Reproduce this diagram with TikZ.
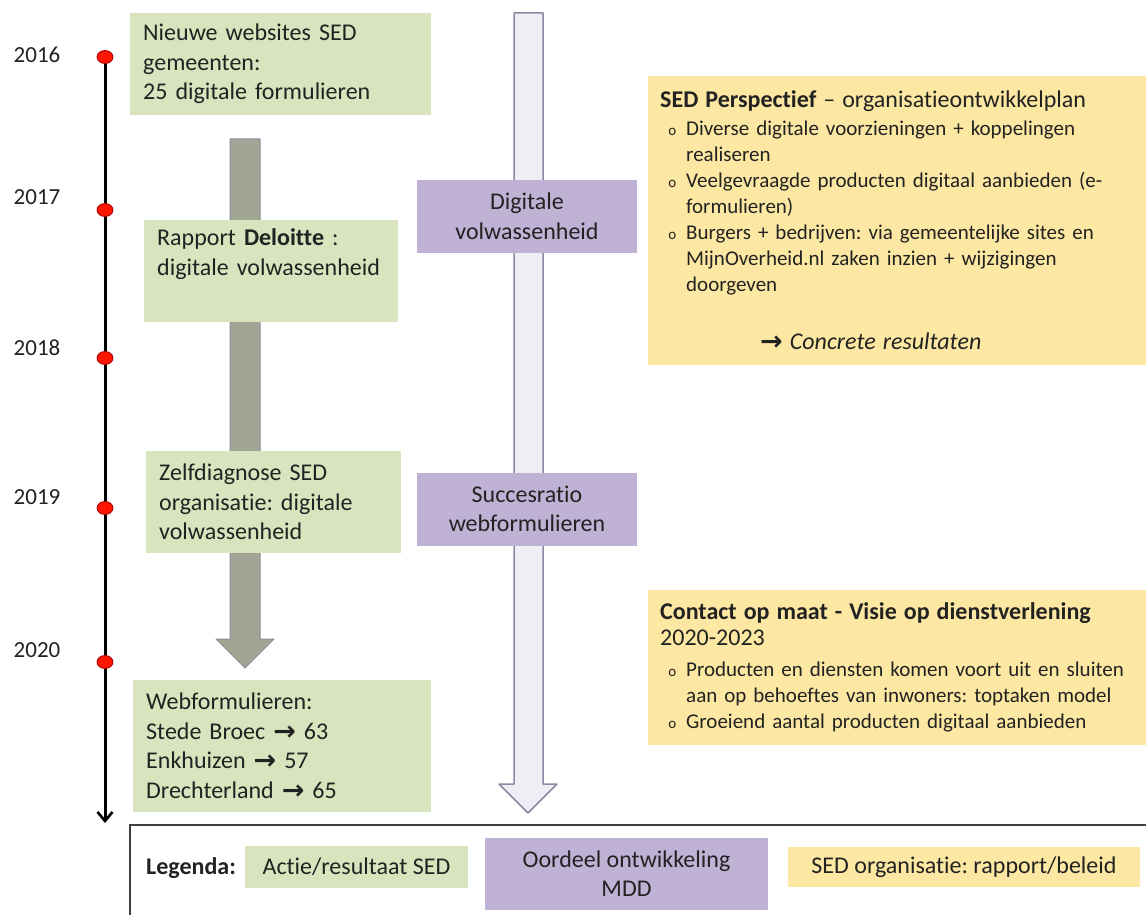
\documentclass[tikz,border=0pt]{standalone}
\usepackage{fontspec}
\setmainfont[Ligatures=NoCommon]{Carlito}
\newfontfamily\arrowfont{DejaVu Sans}
\usetikzlibrary{arrows.meta,shapes.geometric}
\frenchspacing

\definecolor{boxgreen}{HTML}{D7E4BD}
\definecolor{boxpurple}{HTML}{BFB2D4}
\definecolor{boxyellow}{HTML}{FCE8A2}
\definecolor{ink}{HTML}{222222}
\definecolor{flowgray}{HTML}{A3A594}
\definecolor{flowgrayedge}{HTML}{8C8D99}
\definecolor{flowlight}{HTML}{EFEEF5}
\definecolor{flowlightedge}{HTML}{8E87A6}
\definecolor{dotred}{HTML}{FF1500}
\definecolor{dotedge}{HTML}{A00000}
\definecolor{legendedge}{HTML}{404040}

% thick arrow glyph used inside the texts
\newcommand{\goesto}{{\arrowfont\bfseries\fontsize{27}{20}\selectfont\raisebox{-1pt}{→}}}

% small "o" bullets with a hanging indent
\newenvironment{bulletlist}{%
  \begin{list}{\fontsize{15}{15}\selectfont o}{%
    \setlength{\leftmargin}{26pt}\setlength{\labelwidth}{12pt}%
    \setlength{\labelsep}{10pt}\setlength{\itemsep}{0pt}%
    \setlength{\parsep}{0pt}\setlength{\topsep}{0pt}%
    \setlength{\partopsep}{0pt}\raggedright}}%
  {\end{list}}

\begin{document}
\begin{tikzpicture}[x=1pt,y=-1pt,
  every node/.style={text=ink},
  year/.style={font=\fontsize{23}{28}\selectfont, inner sep=0pt},
  yeardot/.style={ellipse, fill=dotred, draw=dotedge, line width=0.8pt,
    minimum width=16pt, minimum height=13pt, inner sep=0pt},
  greenbox/.style={fill=boxgreen, anchor=north west, inner xsep=13pt,
    inner ysep=0pt, align=left, font=\fontsize{24}{29.5}\selectfont},
  purplebox/.style={fill=boxpurple, minimum width=220pt, minimum height=73pt,
    inner sep=0pt, align=center, font=\fontsize{24}{29.5}\selectfont},
  yellowbox/.style={fill=boxyellow, anchor=north west, inner xsep=12pt,
    inner ysep=0pt, text width=474pt, align=left,
    font=\fontsize{21}{26}\selectfont},
  legendbox/.style={inner sep=0pt, align=center,
    font=\fontsize{24}{29}\selectfont}
]
\useasboundingbox (0,0) rectangle (1146,915);
\fill[white] (0,0) rectangle (1146,915);

% timeline
\coordinate (tlstart) at (105,57);
\coordinate (tlend) at (105,823);
\draw[line width=3pt, -{Straight Barb[length=9pt,width=15pt,line width=2.6pt]}]
  (tlstart) -- (tlend);
\foreach \yr/\dy/\ly in {2016/57/55, 2017/210/197, 2018/358/348,
                         2019/508/497, 2020/662/650}{
  \node[year] (y\yr) at (37,\ly) {\yr};
  \node[yeardot] (d\yr) at (105,\dy) {};
}

% broad arrows
\draw[fill=flowlight, draw=flowlightedge, line width=1.5pt, line join=round]
  (514,13) -- (543,13) -- (543,784) -- (557,784) -- (528,813)
  -- (499,784) -- (514,784) -- cycle;
\draw[fill=flowgray, draw=flowgrayedge, line width=1pt, line join=round]
  (230,139) -- (260,139) -- (260,639) -- (274,639) -- (245,668)
  -- (216,639) -- (230,639) -- cycle;

% actions / results
\node[greenbox, text width=275pt, minimum height=102pt] (g1) at (130,13)
  {Nieuwe websites SED\\ gemeenten:\\ 25 digitale formulieren};
\node[greenbox, text width=228pt, minimum height=102pt] (g2) at (144,220)
  {Rapport \textbf{Deloitte} :\\ digitale volwassenheid\\ \strut};
\node[greenbox, text width=229pt, minimum height=102pt] (g3) at (146,451)
  {Zelfdiagnose SED\\ organisatie: digitale\\ volwassenheid};
\node[greenbox, text width=272pt, minimum height=132pt] (g4) at (133,680)
  {Webformulieren:\\ Stede Broec \goesto{} 63\\ Enkhuizen \goesto{} 57\\
   Drechterland \goesto{} 65};

% assessments
\node[purplebox] (p1) at (527,216.5) {Digitale\\ volwassenheid};
\node[purplebox] (p2) at (527,509) {Succesratio\\ webformulieren};

% reports / policy
\node[yellowbox, minimum height=289pt] (r1) at (648,76)
  {{\fontsize{24}{29}\selectfont\textbf{SED Perspectief} – organisatieontwikkelplan}\par
   \vspace{2pt}
   \begin{bulletlist}
   \item Diverse digitale voorzieningen + koppelingen\\ realiseren
   \item Veelgevraagde producten digitaal aanbieden (e-\\formulieren)
   \item Burgers + bedrijven: via gemeentelijke sites en\\
         MijnOverheid.nl zaken inzien + wijzigingen\\ doorgeven
   \end{bulletlist}\par
   \vspace{32pt}
   \hspace*{100pt}{\fontsize{24}{29}\selectfont\goesto\ \textit{Concrete resultaten}}};
\node[yellowbox, minimum height=155pt] (r2) at (648,590)
  {{\fontsize{24}{28}\selectfont\textbf{Contact op maat - Visie op dienstverlening}\\
    2020-2023}\par
   \vspace{5pt}
   \begin{bulletlist}
   \item Producten en diensten komen voort uit en sluiten\\
         aan op behoeftes van inwoners: toptaken model
   \item Groeiend aantal producten digitaal aanbieden
   \end{bulletlist}};

% legend
\draw[line width=2pt, draw=legendedge] (1150,825) -- (130,825) -- (130,920);
\node[legendbox, anchor=west] (lgtitle) at (146,868) {\textbf{Legenda:}};
\node[legendbox, fill=boxgreen, minimum width=223pt, minimum height=42pt]
  (lggreen) at (356.5,867) {Actie/resultaat SED};
\node[legendbox, fill=boxpurple, minimum width=283pt, minimum height=72pt]
  (lgpurple) at (626.5,874) {Oordeel ontwikkeling\\ MDD};
\node[legendbox, fill=boxyellow, minimum width=352pt, minimum height=40pt]
  (lgyellow) at (964,867) {SED organisatie: rapport/beleid};
\end{tikzpicture}
\end{document}
